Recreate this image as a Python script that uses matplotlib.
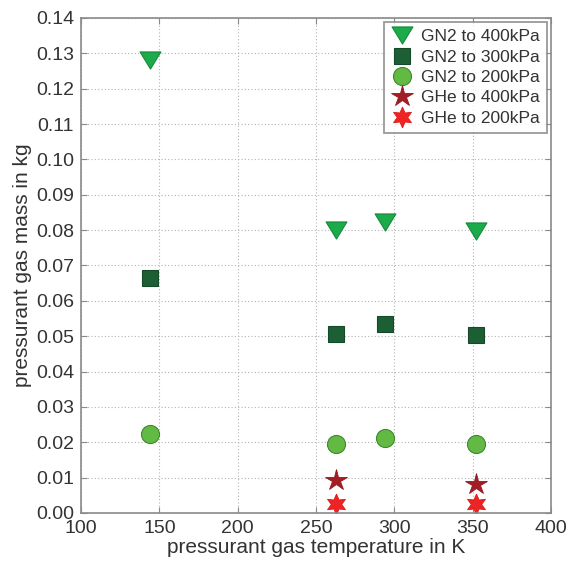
import matplotlib
matplotlib.use("Agg")
import matplotlib.pyplot as plt
from matplotlib.path import Path

plt.rcParams['font.family'] = ['Liberation Sans', 'DejaVu Sans']

# Pressurant gas temperature (K) and required pressurant mass (kg)
temp_gn2 = [144, 263, 294, 352]
gn2_400 = [0.128, 0.0800, 0.0823, 0.0798]
gn2_300 = [0.0664, 0.0506, 0.0534, 0.0503]
gn2_200 = [0.0223, 0.0195, 0.0212, 0.0195]

temp_ghe = [263, 352]
ghe_400 = [0.0093, 0.0083]
ghe_200 = [0.0025, 0.0025]

x_ticks = [100, 150, 200, 250, 300, 350, 400]
y_ticks = [i / 100 for i in range(0, 15)]

# a slightly flattened downward triangle
tri_down = Path([(-1, 0.82), (1, 0.82), (0, -0.82), (-1, 0.82)],
                [Path.MOVETO, Path.LINETO, Path.LINETO, Path.CLOSEPOLY])

fig = plt.figure(figsize=(5.74, 5.61), dpi=100)
ax = fig.add_axes([0.1411, 0.0856, 0.8188, 0.8824])

ax.plot(temp_gn2, gn2_400, linestyle='none', marker=tri_down, markersize=15,
        color='#1cab4b', markeredgecolor='#148a3a', markeredgewidth=0.8,
        label='GN2 to 400kPa')
ax.plot(temp_gn2, gn2_300, linestyle='none', marker='s', markersize=11.5,
        color='#1d5f35', markeredgecolor='#15492a', markeredgewidth=0.8,
        label='GN2 to 300kPa')
ax.plot(temp_gn2, gn2_200, linestyle='none', marker='o', markersize=13,
        color='#62b944', markeredgecolor='#3d8a2b', markeredgewidth=0.8,
        label='GN2 to 200kPa')
ax.plot(temp_ghe, ghe_400, linestyle='none', marker='*', markersize=16,
        color='#a41d25', markeredgecolor='#8c1820', markeredgewidth=0.6,
        label='GHe to 400kPa')
ax.plot(temp_ghe, ghe_200, linestyle='none', marker=(6, 1, 0), markersize=15,
        color='#ee2424', markeredgecolor='#e01818', markeredgewidth=0.6,
        label='GHe to 200kPa')

ax.set_xlim(100, 400)
ax.set_ylim(0, 0.14)
ax.set_xticks(x_ticks)
ax.set_yticks(y_ticks)
ax.set_yticklabels([f"{v:.2f}" for v in y_ticks])

ax.grid(True, linestyle=(0, (1, 2)), color='#b4b4b4', linewidth=0.8)
ax.set_axisbelow(True)
for s in ax.spines.values():
    s.set_color('#8a8a8a')
    s.set_linewidth(1.2)
ax.tick_params(direction='in', length=4, color='#8a8a8a', labelsize=14,
               labelcolor='#333333', top=True, right=True, pad=5)

ax.set_xlabel('pressurant gas temperature in K', fontsize=15, color='#333333', labelpad=1)
ax.set_ylabel('pressurant gas mass in kg', fontsize=15, color='#333333', labelpad=3)

leg = ax.legend(loc='upper right', fontsize=12.5, frameon=True, fancybox=False,
                edgecolor='#808080', handletextpad=0.5, borderpad=0.4,
                labelspacing=0.3, handlelength=1.2, borderaxespad=0.25)
leg.get_frame().set_linewidth(1.3)
for t in leg.get_texts():
    t.set_color('#333333')

fig.savefig('out.png', dpi=100)
